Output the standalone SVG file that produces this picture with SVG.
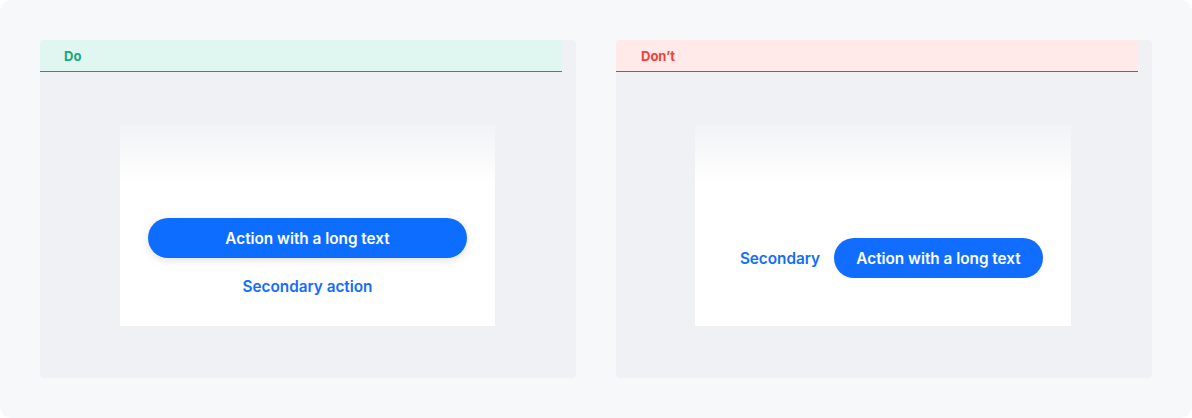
<svg xmlns="http://www.w3.org/2000/svg" width="1192" height="418" viewBox="0 0 1192 418">
<defs>
<style>
.panel{fill:#F0F1F5}
.card{fill:url(#fade)}
.btn{fill:#116DFF}
.t{font-family:Inter,"Noto Sans","Liberation Sans",sans-serif;font-weight:600}
.btnt{fill:#FFFFFF;font-size:15.3px;text-anchor:middle}
.sec{fill:#116DFF;font-size:15.3px;text-anchor:middle}
.hd{font-size:13px;font-weight:700}
</style>
<linearGradient id="fade" x1="0" y1="0" x2="0" y2="1">
<stop offset="0" stop-color="#F2F3F6"/>
<stop offset="0.3" stop-color="#FFFFFF"/>
<stop offset="1" stop-color="#FFFFFF"/>
</linearGradient>
<filter id="sh" x="-10%" y="-40%" width="120%" height="200%">
<feDropShadow dx="0" dy="2" stdDeviation="4" flood-color="#000000" flood-opacity="0.12"/>
</filter>
</defs>
<rect x="0" y="0" width="1192" height="418" rx="12" fill="#F7F8FA"/>
<g id="do-panel">
<rect class="panel" x="40" y="40" width="536" height="338" rx="4"/>
<path d="M44 40H562V71H40V44A4 4 0 0 1 44 40Z" fill="#E0F6F0"/>
<rect x="40" y="71" width="522" height="1" fill="#139E77"/>
<text class="t hd" x="64" y="61" fill="#18A67C">Do</text>
<rect class="card" x="120" y="125" width="375" height="201"/>
</g>
<g id="do-primary">
<rect class="btn" x="148" y="218" width="319" height="40" rx="20" filter="url(#sh)"/>
<text class="t btnt" x="307.5" y="244">Action with a long text</text>
</g>
<g id="do-secondary">
<text class="t sec" x="307.5" y="292">Secondary action</text>
</g>
<g id="dont-panel">
<rect class="panel" x="616" y="40" width="536" height="338" rx="4"/>
<path d="M620 40H1138V71H616V44A4 4 0 0 1 620 40Z" fill="#FFE9E9"/>
<rect x="616" y="71" width="522" height="1" fill="#DE3A32"/>
<text class="t hd" x="641" y="61" fill="#F0413B">Don’t</text>
<rect class="card" x="695" y="125" width="376" height="201"/>
</g>
<g id="dont-secondary">
<text class="t sec" x="780" y="264">Secondary</text>
</g>
<g id="dont-primary">
<rect class="btn" x="834" y="238" width="209" height="40" rx="20"/>
<text class="t btnt" x="938.5" y="264">Action with a long text</text>
</g>
<g id="connectors"/>
</svg>
